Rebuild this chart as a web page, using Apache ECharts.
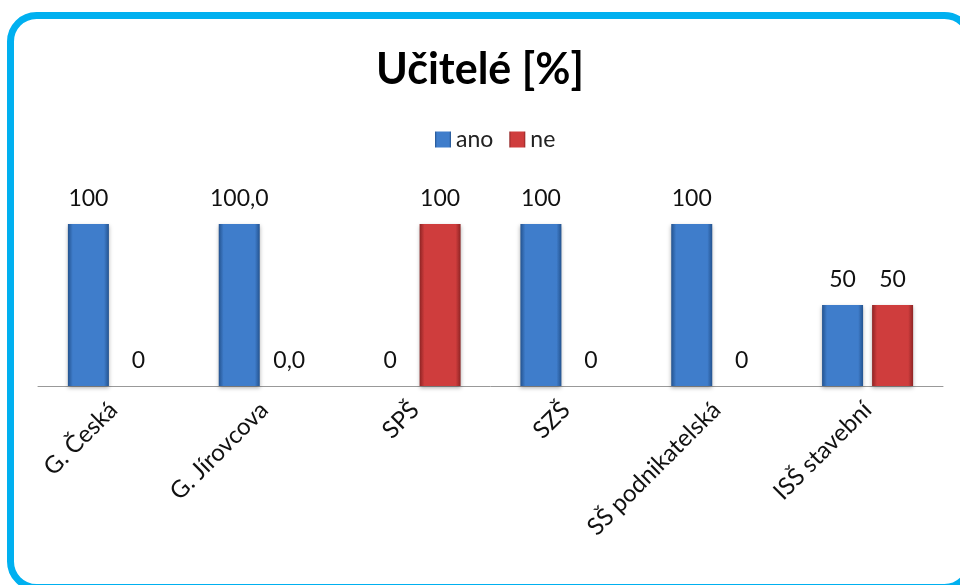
<!DOCTYPE html>
<html>
<head>
<meta charset="utf-8">
<script src="https://cdn.jsdelivr.net/npm/echarts@6/dist/echarts.min.js"></script>
<style>
html,body{margin:0;padding:0;background:#fff;overflow:hidden;}
#chart{position:absolute;left:0;top:0;width:960px;height:585px;}
</style>
</head>
<body>
<div id="chart"></div>
<script>
const categories = ['G. Česká', 'G. Jírovcova', 'SPŠ', 'SZŠ', 'SŠ podnikatelská', 'ISŠ stavební'];
const anoValues = [100, 100, 0, 100, 100, 50];
const neValues = [0, 0, 100, 0, 0, 50];
const anoLabels = ['100', '100,0', '0', '100', '100', '50'];
const neLabels = ['0', '0,0', '100', '0', '0', '50'];

const FONT = 'Lato, "Open Sans", sans-serif';

function barGrad(edge, mid){
  return new echarts.graphic.LinearGradient(0,0,1,0,[
    {offset:0,color:edge},{offset:0.12,color:mid},{offset:0.88,color:mid},{offset:1,color:edge}
  ]);
}

const chart = echarts.init(document.getElementById('chart'), null, {renderer:'canvas'});
chart.setOption({
  animation:false,
  graphic:[{type:'rect',z:-10,silent:true,
    shape:{x:10.5,y:15.5,width:960,height:572,r:26},
    style:{fill:'#fff',stroke:'#00B0F0',lineWidth:7}}],
  title:{text:'Učitelé [%]',left:'center',top:44,textStyle:{fontFamily:FONT,fontWeight:'bold',fontSize:43,color:'#000'}},
  legend:{top:123,left:430,itemWidth:16,itemHeight:16,itemGap:16,
    textStyle:{fontFamily:FONT,fontSize:23,color:'#222'},
    data:[{name:'ano',icon:'rect'},{name:'ne',icon:'rect'}]},
  grid:{left:38,right:17,top:224,bottom:199,containLabel:false},
  xAxis:{type:'category',data:categories,
    axisLine:{lineStyle:{color:'#999',width:1}},axisTick:{show:false},
    axisLabel:{rotate:45,interval:0,margin:20,fontFamily:FONT,fontSize:24,color:'#111'}},
  yAxis:{type:'value',min:0,max:100,show:false,splitLine:{show:false}},
  series:[
    {name:'ano',type:'bar',data:anoValues,barWidth:41,barGap:'22%',
      itemStyle:{color:barGrad('#24538F','#3F7DCB'),shadowColor:'rgba(0,0,0,0.3)',shadowBlur:4,shadowOffsetY:2},
      label:{show:true,position:'top',distance:14,fontFamily:FONT,fontSize:23,color:'#111',
        formatter:p=>anoLabels[p.dataIndex]}},
    {name:'ne',type:'bar',data:neValues,barWidth:41,
      itemStyle:{color:barGrad('#8E2424','#CF3D3D'),shadowColor:'rgba(0,0,0,0.3)',shadowBlur:4,shadowOffsetY:2},
      label:{show:true,position:'top',distance:14,fontFamily:FONT,fontSize:23,color:'#111',
        formatter:p=>neLabels[p.dataIndex]}}
  ],
  color:['#3F7DCB','#CF3D3D']
});
</script>
</body>
</html>
